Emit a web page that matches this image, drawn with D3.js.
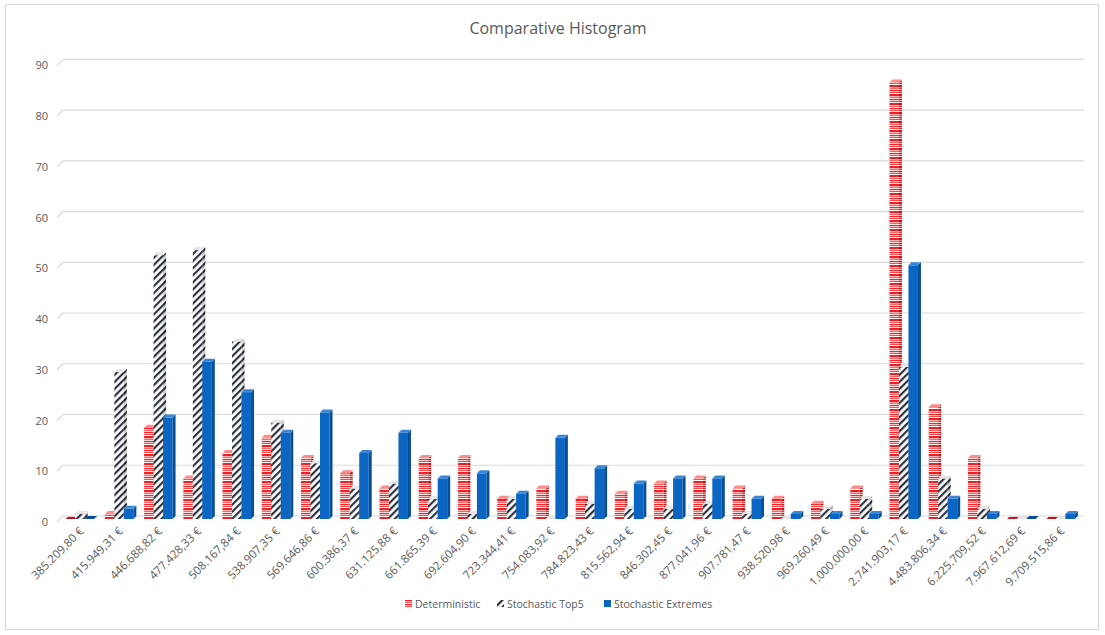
<!DOCTYPE html>
<html>
<head>
<meta charset="utf-8">
<script src="https://cdn.jsdelivr.net/npm/d3@7"></script>
<style>
  html, body { margin: 0; padding: 0; background: #fff; }
  svg { display: block; font-family: "Open Sans", "Noto Sans", sans-serif; }
</style>
</head>
<body>
<svg id="chart" width="1105" height="635"></svg>
<script>
// Histogram bins (upper bound of each cost class)
const categories = [
  "385.209,80 €", "415.949,31 €", "446.688,82 €", "477.428,33 €", "508.167,84 €",
  "538.907,35 €", "569.646,86 €", "600.386,37 €", "631.125,88 €", "661.865,39 €",
  "692.604,90 €", "723.344,41 €", "754.083,92 €", "784.823,43 €", "815.562,94 €",
  "846.302,45 €", "877.041,96 €", "907.781,47 €", "938.520,98 €", "969.260,49 €",
  "1.000.000,00 €", "2.741.903,17 €", "4.483.806,34 €", "6.225.709,52 €",
  "7.967.612,69 €", "9.709.515,86 €"
];

// Frequencies per bin for each approach
const deterministic = [0, 1, 18, 8, 13, 16, 12, 9, 6, 12, 12, 4, 6, 4, 5, 7, 8, 6, 4, 3, 6, 86, 22, 12, 0, 0];
const stochasticTop5 = [1, 29, 52, 53, 35, 19, 11, 6, 7, 4, 1, 4, 0, 3, 2, 2, 3, 1, 0, 2, 4, 30, 8, 2, 0, 0];
const stochasticExtremes = [0, 2, 20, 31, 25, 17, 21, 13, 17, 8, 9, 5, 16, 10, 7, 8, 8, 4, 1, 1, 1, 50, 4, 1, 0, 1];

const seriesNames = ["Deterministic", "Stochastic Top5", "Stochastic Extremes"];
const yTicks = [0, 10, 20, 30, 40, 50, 60, 70, 80, 90];

const series = [
  { name: seriesNames[0], values: deterministic },
  { name: seriesNames[1], values: stochasticTop5 },
  { name: seriesNames[2], values: stochasticExtremes }
];

const svg = d3.select("#chart");
const defs = svg.append("defs");

// ---- fill patterns ----
function stripedRed(id, rows) {
  const p = defs.append("pattern").attr("id", id)
    .attr("patternUnits", "userSpaceOnUse").attr("width", 6).attr("height", 9);
  rows.forEach(([y, h, c]) => p.append("rect").attr("x", 0).attr("y", y).attr("width", 6).attr("height", h).attr("fill", c));
}
stripedRed("detFront", [[0, 1, "#f5262b"], [1, 1, "#ffc4c4"], [2, 1, "#ff4a4a"], [3, 1, "#ffffff"],
                        [4, 2, "#ee1f25"], [6, 1, "#ffb0b0"], [7, 1, "#ff6565"], [8, 1, "#ffe0e0"]]);
stripedRed("detSide", [[0, 1, "#c8181d"], [1, 1, "#e89a9a"], [2, 1, "#d23030"], [3, 1, "#f0d0d0"],
                       [4, 2, "#bf1519"], [6, 1, "#e08888"], [7, 1, "#d04545"], [8, 1, "#e8b8b8"]]);

function hatch(id, bg, fg) {
  const p = defs.append("pattern").attr("id", id)
    .attr("patternUnits", "userSpaceOnUse").attr("width", 5).attr("height", 5)
    .attr("patternTransform", "rotate(45)");
  p.append("rect").attr("width", 5).attr("height", 5).attr("fill", bg);
  p.append("rect").attr("x", 0).attr("y", 0).attr("width", 2.2).attr("height", 5).attr("fill", fg);
}
hatch("topFront", "#ffffff", "#2e3440");
hatch("topSide", "#d8d8d8", "#22272f");

const styles = [
  { front: "url(#detFront)", side: "url(#detSide)", top: "#ff8a8a", legend: "url(#detFront)" },
  { front: "url(#topFront)", side: "url(#topSide)", top: "#e6e6e6", legend: "url(#topFront)" },
  { front: "#0a66c2", side: "#084f96", top: "#3a86d6", legend: "#0a66c2" }
];

// ---- scales ----
const x = d3.scaleBand().domain(categories).range([61, 1081]);
const y = d3.scaleLinear().domain([0, 90]).range([516, 59.3]);
const depth = 3;         // 3D offset of the columns
const floor = 6;         // offset between axis plane and back wall
const barW = 9.5;

// ---- outer frame ----
svg.append("rect").attr("x", 5.5).attr("y", 4.5).attr("width", 1093).attr("height", 625)
  .attr("fill", "none").attr("stroke", "#d9d9d9").attr("stroke-width", 1);

// ---- title ----
svg.append("text").attr("x", 558).attr("y", 34).attr("text-anchor", "middle")
  .attr("font-size", 16).attr("fill", "#595959").text("Comparative Histogram");

// ---- gridlines on the back wall ----
const grid = svg.append("g");
yTicks.forEach(t => {
  grid.append("line").attr("x1", 63).attr("x2", 1084).attr("y1", y(t)).attr("y2", y(t))
    .attr("stroke", "#d9d9d9").attr("stroke-width", 1.2);
  grid.append("line").attr("x1", 63 - floor).attr("y1", y(t) + floor).attr("x2", 63).attr("y2", y(t))
    .attr("stroke", "#d9d9d9").attr("stroke-width", 1.2);
});

// ---- y axis labels ----
const yAxis = svg.append("g").attr("transform", `translate(57,${floor})`)
  .call(d3.axisLeft(y).tickValues(yTicks).tickSize(0).tickPadding(9));
yAxis.select(".domain").remove();
yAxis.selectAll("text").attr("fill", "#595959").attr("font-size", 11)
  .attr("font-family", "'Open Sans', sans-serif");

// ---- 3D columns ----
const bars = svg.append("g");
categories.forEach((c, i) => {
  const gx = x(c) + x.bandwidth() / 2 - 15;
  series.forEach((s, k) => {
    const v = s.values[i];
    const bx = gx + k * barW;
    const yb = y(v), yf = y(v) + depth, y0 = y(0) + depth;
    const st = styles[k];
    const g = bars.append("g");
    if (v > 0) {
      g.append("rect").attr("x", bx).attr("y", yf).attr("width", barW).attr("height", y0 - yf)
        .attr("fill", st.front);
      g.append("path").attr("d", `M${bx + barW},${yf}L${bx + barW + depth},${yb}L${bx + barW + depth},${y(0)}L${bx + barW},${y0}Z`)
        .attr("fill", st.side);
    }
    g.append("path").attr("d", `M${bx},${yf}L${bx + depth},${yb}L${bx + barW + depth},${yb}L${bx + barW},${yf}Z`)
      .attr("fill", v > 0 ? st.top : (k === 1 ? "#e6e6e6" : st.side));
  });
});

// ---- x axis labels ----
const xAxis = svg.append("g").attr("transform", "translate(0,529)")
  .call(d3.axisBottom(x).tickSize(0));
xAxis.select(".domain").remove();
xAxis.selectAll("text")
  .attr("x", 0).attr("y", 0).attr("dy", "0.35em")
  .attr("text-anchor", "end")
  .attr("transform", "translate(1,0) rotate(-45)")
  .attr("fill", "#595959").attr("font-size", 11.5)
  .attr("font-family", "'Open Sans', sans-serif");

// ---- legend ----
const legend = svg.append("g").attr("font-size", 10.5).attr("fill", "#595959");
const legendX = [405, 497, 604];
series.forEach((s, k) => {
  const lg = legend.append("g").attr("transform", `translate(${legendX[k]},604)`);
  lg.append("rect").attr("x", 0).attr("y", -4).attr("width", 7).attr("height", 7).attr("fill", styles[k].legend);
  lg.append("text").attr("x", 10).attr("y", 0).attr("dy", "0.35em").attr("fill", "#595959").text(s.name);
});
</script>
</body>
</html>
